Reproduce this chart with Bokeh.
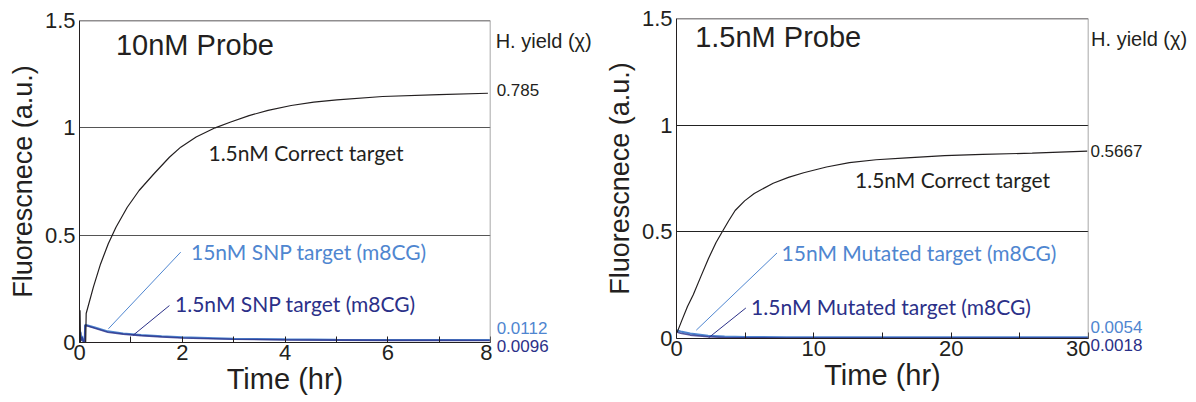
from bokeh.plotting import figure
from bokeh.layouts import row, column
from bokeh.models import Label, Span, FixedTicker, Range1d
from bokeh.core.properties import value
from bokeh.embed import file_html
from bokeh.resources import INLINE

# ---------------- data: left panel (10nM probe) ----------------
t_left_correct = [0, 0.01, 0.02, 0.03, 0.12, 0.13, 0.27, 0.41, 0.56, 0.71, 0.93, 1.16, 1.45, 1.75,
                  1.97, 2.27, 2.64, 2.93, 3.3, 3.67, 4.12, 4.56, 5.01, 5.9, 7.0, 7.95]
v_left_correct = [0, 0.15, 0.0, 0.0, 0.0, 0.135, 0.258, 0.366, 0.46, 0.537, 0.63, 0.708, 0.786, 0.863,
                  0.91, 0.957, 1.0, 1.026, 1.057, 1.081, 1.104, 1.12, 1.13, 1.146, 1.155, 1.161]
t_left_snp = [0, 0.01, 0.02, 0.03, 0.05, 0.08, 0.1, 0.11, 0.3, 0.55, 0.85, 1.2, 1.6, 2.0,
              3.0, 4.0, 5.0, 6.0, 7.0, 8.0]
v_left_snp15 = [0, 0.04, 0.05, 0.01, 0.03, 0.0, 0.0, 0.083, 0.07, 0.052, 0.042, 0.035, 0.029, 0.024,
                0.018, 0.015, 0.013, 0.012, 0.0115, 0.0112]
v_left_snp1_5 = [0, 0.035, 0.045, 0.008, 0.025, 0.0, 0.0, 0.08, 0.066, 0.048, 0.039, 0.032, 0.026, 0.021,
                 0.015, 0.012, 0.011, 0.010, 0.0097, 0.0096]
left_yields = ["0.785", "0.0112", "0.0096"]

# ---------------- data: right panel (1.5nM probe) ----------------
t_right_correct = [0, 0.06, 0.39, 0.8, 1.22, 1.77, 2.33, 2.88, 3.3, 3.8, 4.27, 4.96, 5.66, 7.04,
                   8.15, 9.26, 10.92, 12.59, 14.53, 16.75, 19.52, 22.29, 25.9, 29.91]
v_right_correct = [0.03, 0.031, 0.085, 0.15, 0.205, 0.29, 0.375, 0.45, 0.497, 0.552, 0.6, 0.645, 0.68, 0.728,
                   0.755, 0.777, 0.804, 0.824, 0.838, 0.847, 0.857, 0.863, 0.869, 0.878]
t_right_mut = [0, 0.3, 1.0, 2.3, 3.5, 5.0, 8.0, 12.0, 18.0, 24.0, 30.0]
v_right_mut15 = [0.039, 0.033, 0.023, 0.013, 0.009, 0.007, 0.0062, 0.0058, 0.0056, 0.0055, 0.0054]
v_right_mut1_5 = [0.03, 0.025, 0.016, 0.008, 0.005, 0.003, 0.0025, 0.0022, 0.002, 0.0019, 0.0018]
right_yields = ["0.5667", "0.0054", "0.0018"]

y_ticks = [0, 0.5, 1, 1.5]
BLACK = "#231f20"
LIGHT = "#4f86d0"
DARK = "#2b3088"
AXFONT = "Liberation Sans"
NOTEFONT = "Lato"


def make_panel(width, xmax, xmajor, xminor, t_c, v_c, t_b, v_b15, v_b1, title, title_xy,
               correct_xy, lab15, lab15_xy, lab1, lab1_xy, ptr15, ptr1, borders, grid_color):
    bl, br, bt, bb = borders
    p = figure(width=width, height=402, output_backend="svg", toolbar_location=None,
               x_range=Range1d(0, xmax), y_range=Range1d(0, 1.5),
               min_border_left=bl, min_border_right=br, min_border_top=bt, min_border_bottom=bb)
    p.outline_line_color = None

    p.xaxis.ticker = FixedTicker(ticks=xmajor, minor_ticks=xminor)
    p.yaxis.ticker = FixedTicker(ticks=y_ticks)
    p.yaxis.major_label_overrides = {0: "0", 0.5: "0.5", 1: "1", 1.5: "1.5"}
    for ax in (p.xaxis[0], p.yaxis[0]):
        ax.axis_line_color = BLACK
        ax.axis_line_width = 1
        ax.major_label_text_font = AXFONT
        ax.major_label_text_font_size = "22px"
        ax.major_label_text_color = BLACK
        ax.axis_label_text_font = AXFONT
        ax.axis_label_text_font_style = "normal"
        ax.axis_label_text_color = BLACK
    p.xaxis.axis_label = "Time (hr)"
    p.xaxis.axis_label_text_font_size = "29px"
    p.xaxis.axis_label_standoff = 0
    p.xaxis.major_label_standoff = 2
    p.xaxis.major_tick_in = 6
    p.xaxis.major_tick_out = 0
    p.xaxis.minor_tick_in = 6
    p.xaxis.minor_tick_out = 0
    p.xaxis.major_tick_line_color = BLACK
    p.xaxis.minor_tick_line_color = BLACK
    p.yaxis.axis_label = "Fluorescnece (a.u.)"
    p.yaxis.axis_label_text_font_size = "27px"
    p.yaxis.axis_label_standoff = 4
    p.yaxis.major_label_standoff = 4
    p.yaxis.major_tick_in = 0
    p.yaxis.major_tick_out = 0

    p.xgrid.visible = False
    p.ygrid.ticker = FixedTicker(ticks=[0.5, 1.0])
    p.ygrid.grid_line_color = grid_color
    p.ygrid.grid_line_width = 1

    p.add_layout(Span(location=1.5, dimension="width", line_color=BLACK, line_width=1.5))
    p.add_layout(Span(location=xmax, dimension="height", line_color="#8a8a8a", line_width=1.5))

    p.line(t_b, v_b15, line_color=LIGHT, line_width=2)
    p.line(t_b, v_b1, line_color=DARK, line_width=1.6, line_alpha=0.8)
    p.line(t_c, v_c, line_color=BLACK, line_width=1.2)

    p.segment(x0=[ptr15[0]], y0=[ptr15[1]], x1=[ptr15[2]], y1=[ptr15[3]], line_color=LIGHT, line_width=1)
    p.segment(x0=[ptr1[0]], y0=[ptr1[1]], x1=[ptr1[2]], y1=[ptr1[3]], line_color=DARK, line_width=1)

    def lab(x, y, text, color, font, size):
        p.add_layout(Label(x=x, y=y, text=text, text_color=color, text_font=font,
                           text_font_size=size, text_baseline="middle", text_align="left"))

    lab(title_xy[0], title_xy[1], title, BLACK, AXFONT, "29px")
    lab(correct_xy[0], correct_xy[1], "1.5nM Correct target", BLACK, NOTEFONT, "21px")
    lab(lab15_xy[0], lab15_xy[1], lab15, LIGHT, NOTEFONT, "21px")
    lab(lab1_xy[0], lab1_xy[1], lab1, DARK, NOTEFONT, "21px")
    return p


def make_yield_strip(width, xmax, frame_px, gap_px, borders, yields, yield_ys, hyield_x, yield_x):
    # a narrow, axis-less figure on the same data scale as the panel's frame,
    # holding the hybridisation-yield texts to the right of the panel
    bl, br, bt, bb = borders
    px_per_x = frame_px / xmax
    px_per_y = (402 - bt - bb) / 1.5
    xr = Range1d(xmax + gap_px / px_per_x, xmax + (gap_px + width) / px_per_x)
    yr = Range1d(-bb / px_per_y, 1.5 + bt / px_per_y)
    s = figure(width=width, height=402, output_backend="svg", toolbar_location=None,
               x_range=xr, y_range=yr, x_axis_type=None, y_axis_type=None,
               min_border=0)
    s.outline_line_color = None
    s.grid.visible = False
    s.text(x=[hyield_x], y=[1.405], text=["H. yield (\u03c7)"], text_color=BLACK,
           text_font=value(AXFONT), text_font_size="20px", text_baseline="middle", text_align="left")
    s.text(x=[yield_x] * 3, y=yield_ys, text=yields, text_color=[BLACK, LIGHT, DARK],
           text_font=value(AXFONT), text_font_size="17px", text_baseline="middle", text_align="left")
    return s


L_BORDERS = (79, 2, 20, 60)
R_BORDERS = (78, 2, 18, 64)
LEFT_W = 492
RIGHT_W = 492

p1 = make_panel(LEFT_W, 8, [0, 2, 4, 6, 8], [1, 3, 5, 7],
                t_left_correct, v_left_correct, t_left_snp, v_left_snp15, v_left_snp1_5,
                "10nM Probe", (0.71, 1.384), (2.51, 0.887),
                "15nM SNP target (m8CG)", (2.17, 0.425),
                "1.5nM SNP target (m8CG)", (1.86, 0.18),
                (1.97, 0.421, 0.563, 0.064), (1.75, 0.172, 1.04, 0.033),
                L_BORDERS, "#555555")
s1 = make_yield_strip(598 - LEFT_W, 8, LEFT_W - L_BORDERS[0] - L_BORDERS[1], L_BORDERS[1], L_BORDERS,
                      left_yields, [1.177, 0.068, -0.014], 8.10, 8.12)

p2 = make_panel(RIGHT_W, 30, [0, 10, 20, 30], [5, 15, 25],
                t_right_correct, v_right_correct, t_right_mut, v_right_mut15, v_right_mut1_5,
                "1.5nM Probe", (1.36, 1.415), (13.0, 0.746),
                "15nM Mutated target (m8CG)", (7.65, 0.401),
                "1.5nM Mutated target (m8CG)", (5.43, 0.148),
                (7.32, 0.401, 1.44, 0.039), (5.05, 0.143, 2.33, 0.003),
                R_BORDERS, "#222222")
s2 = make_yield_strip(598 - RIGHT_W, 30, RIGHT_W - R_BORDERS[0] - R_BORDERS[1], R_BORDERS[1], R_BORDERS,
                      right_yields, [0.878, 0.054, -0.031], 30.19, 30.14)

layout = row(column(p1), column(s1), column(p2), column(s2))
open("out.html", "w").write(file_html(layout, INLINE))
